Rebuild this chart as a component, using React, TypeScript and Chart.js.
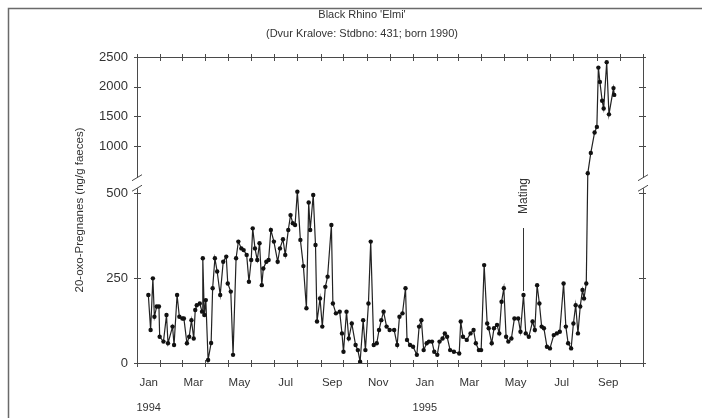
import React, { useEffect, useRef } from "react";
import { Chart, registerables } from "chart.js";

Chart.register(...registerables);

// Sampling day (days since 1 Jan 1994) of each faecal sample
const SAMPLE_DAYS = [
  15, 18, 21, 23, 26, 29, 30, 35, 39, 41, 47, 49, 53, 56, 60, 62, 66, 69, 72, 75,
  77, 79, 83, 86, 87, 89, 91, 94, 98, 100, 103, 106, 110, 114, 118, 120, 124, 127, 131, 134,
  138, 141, 145, 148, 151, 153, 156, 159, 162, 165, 167, 171, 174, 177, 181, 186, 189, 193, 196, 200,
  203, 206, 209, 212, 216, 220, 224, 227, 229, 233, 236, 238, 242, 245, 249, 252, 257, 259, 263, 268,
  271, 273, 277, 280, 284, 289, 292, 295, 299, 302, 306, 309, 313, 317, 320, 323, 326, 330, 334, 340,
  344, 347, 351, 355, 357, 361, 365, 370, 373, 376, 379, 383, 386, 390, 393, 397, 400, 404, 407, 410,
  414, 419, 426, 428, 431, 436, 441, 445, 448, 452, 455, 459, 463, 465, 469, 472, 476, 479, 482, 485,
  488, 491, 495, 499, 504, 507, 511, 514, 518, 523, 526, 529, 532, 535, 538, 542, 546, 551, 555, 559,
  564, 567, 570, 574, 577, 580, 583, 586, 589, 591, 594, 596, 600, 605, 608, 610, 612, 615, 617, 621,
  624, 630, 631,
];

// 20-oxo-pregnane concentration (ng/g faeces)
const PREGNANES = [
  200, 97, 249, 136, 166, 166, 77, 63, 141, 58, 107, 53, 200, 136, 131, 131, 58, 77, 126, 72,
  156, 170, 175, 151, 308, 141, 185, 9, 59, 220, 308, 269, 200, 298, 313, 234, 210, 24, 308, 357,
  337, 332, 318, 239, 303, 396, 337, 303, 352, 229, 278, 298, 303, 391, 357, 298, 337, 364, 318, 391,
  435, 411, 406, 504, 362, 285, 161, 472, 391, 494, 347, 122, 190, 107, 224, 254, 406, 175, 146, 151,
  87, 33, 151, 72, 116, 53, 38, 4, 126, 38, 175, 357, 53, 58, 97, 126, 151, 107, 97, 97,
  53, 136, 146, 220, 68, 53, 48, 24, 107, 126, 38, 58, 63, 63, 33, 24, 63, 72, 87, 77,
  38, 33, 28, 122, 77, 68, 87, 97, 58, 38, 38, 288, 116, 102, 58, 102, 112, 87, 180, 220,
  77, 63, 72, 131, 131, 92, 200, 87, 77, 122, 97, 229, 175, 107, 102, 48, 43, 82, 87, 92,
  234, 107, 58, 43, 116, 170, 87, 166, 215, 190, 234, 540, 884, 1229, 1322, 2322, 2081, 1764, 1633, 2414,
  1534, 1977, 1862,
];

// First day of every month on the time axis, Jan 1994 .. Nov 1995
const MONTH_STARTS = [
  0, 31, 59, 90, 120, 151, 181, 212, 243, 273, 304, 334,
  365, 396, 424, 455, 485, 516, 546, 577, 608, 638, 669,
];
// Labels shown for every other month, starting with Jan 1994
const MONTH_LABELS = ["Jan", "Mar", "May", "Jul", "Sep", "Nov", "Jan", "Mar", "May", "Jul", "Sep"];
const YEAR_LABELS = ["1994", "1995"];
const YEAR_MONTH_INDEX = [0, 12];

const LOWER_TICKS = [0, 250, 500];
const UPPER_TICKS = [1000, 1500, 2000, 2500];

const MATING_DAY = 511;
const MATING_VALUE = 200;
const MATING_LINE_TOP = 397;

const TITLE = "Black Rhino 'Elmi'";
const SUBTITLE = "(Dvur Kralove: Stdbno: 431; born 1990)";
const Y_TITLE = "20-oxo-Pregnanes (ng/g faeces)";

// Broken y axis: 0..520 drawn linearly, values above compressed onto an upper band
const LOWER_LIMIT = 520;
const BREAK_VALUE = 500;
const UPPER_BASE = 551;
const UPPER_SCALE = 0.1744;
const AXIS_MAX = 900;

function toAxis(v: number): number {
  return v <= LOWER_LIMIT ? v : UPPER_BASE + (v - BREAK_VALUE) * UPPER_SCALE;
}

const FONT = "'Liberation Sans', Arial, sans-serif";
const AXIS_COLOR = "#4a4a4a";
const TEXT_COLOR = "#333";

const decorations = {
  id: "brokenAxisDecorations",
  afterDraw(chart: any) {
    const ctx = chart.ctx as CanvasRenderingContext2D;
    const xs = chart.scales.x;
    const ys = chart.scales.y;
    const { left, right, top, bottom } = chart.chartArea;
    const px = (d: number) => xs.getPixelForValue(d);
    const py = (v: number) => ys.getPixelForValue(toAxis(v));

    ctx.save();

    // outer frame
    ctx.strokeStyle = "#6a6a6a";
    ctx.lineWidth = 1.5;
    ctx.beginPath();
    ctx.moveTo(8.5, 430);
    ctx.lineTo(8.5, 8.5);
    ctx.lineTo(710, 8.5);
    ctx.stroke();

    // titles
    ctx.fillStyle = TEXT_COLOR;
    ctx.textAlign = "center";
    ctx.textBaseline = "middle";
    ctx.font = `11px ${FONT}`;
    ctx.fillText(TITLE, 362, 15);
    ctx.fillText(SUBTITLE, 362, 34);

    ctx.strokeStyle = AXIS_COLOR;
    ctx.lineWidth = 1;

    const upperBottom = ys.getPixelForValue(UPPER_BASE - 6);
    const lowerTop = ys.getPixelForValue(BREAK_VALUE + 14);

    // frame of the plot with a gap at the break
    ctx.beginPath();
    ctx.moveTo(left + 0.5, top + 0.5);
    ctx.lineTo(right + 0.5, top + 0.5);
    ctx.moveTo(left + 0.5, top);
    ctx.lineTo(left + 0.5, upperBottom);
    ctx.moveTo(left + 0.5, lowerTop);
    ctx.lineTo(left + 0.5, bottom + 0.5);
    ctx.lineTo(right + 0.5, bottom + 0.5);
    ctx.moveTo(right + 0.5, top);
    ctx.lineTo(right + 0.5, upperBottom);
    ctx.moveTo(right + 0.5, lowerTop);
    ctx.lineTo(right + 0.5, bottom + 0.5);
    ctx.stroke();

    // break marks
    ctx.beginPath();
    for (const x of [left, right]) {
      ctx.moveTo(x - 5, upperBottom + 3);
      ctx.lineTo(x + 5, upperBottom - 3);
      ctx.moveTo(x - 5, lowerTop + 3);
      ctx.lineTo(x + 5, lowerTop - 3);
    }
    ctx.stroke();

    // month ticks on bottom and top axes
    ctx.beginPath();
    for (const d of MONTH_STARTS) {
      const x = Math.round(px(d)) + 0.5;
      ctx.moveTo(x, bottom - 3);
      ctx.lineTo(x, bottom + 4);
      ctx.moveTo(x, top - 3);
      ctx.lineTo(x, top + 4);
    }
    // value ticks on left and right axes
    for (const v of [...LOWER_TICKS, ...UPPER_TICKS]) {
      const y = Math.round(py(v)) + 0.5;
      ctx.moveTo(left - 3, y);
      ctx.lineTo(left + 4, y);
      ctx.moveTo(right - 4, y);
      ctx.lineTo(right + 3, y);
    }
    ctx.stroke();

    // y tick labels
    ctx.fillStyle = TEXT_COLOR;
    ctx.font = `13px ${FONT}`;
    ctx.textAlign = "right";
    ctx.textBaseline = "middle";
    for (const v of [...LOWER_TICKS, ...UPPER_TICKS]) {
      ctx.fillText(String(v), left - 9, py(v));
    }

    // month labels centred in their month, years under January
    ctx.font = `11.5px ${FONT}`;
    ctx.textAlign = "center";
    MONTH_LABELS.forEach((label, i) => {
      const m = i * 2;
      const cx = (px(MONTH_STARTS[m]) + px(MONTH_STARTS[m + 1])) / 2;
      ctx.fillText(label, cx, bottom + 20);
    });
    ctx.font = `11px ${FONT}`;
    YEAR_LABELS.forEach((label, i) => {
      const m = YEAR_MONTH_INDEX[i];
      const cx = (px(MONTH_STARTS[m]) + px(MONTH_STARTS[m + 1])) / 2;
      ctx.fillText(label, cx, bottom + 45);
    });

    // y axis title
    ctx.save();
    ctx.translate(80, 210);
    ctx.rotate(-Math.PI / 2);
    ctx.font = `11.5px ${FONT}`;
    ctx.fillText(Y_TITLE, 0, 0);
    ctx.restore();

    // mating annotation
    const mx = Math.round(px(MATING_DAY)) + 0.5;
    ctx.strokeStyle = "#333";
    ctx.beginPath();
    ctx.moveTo(mx, py(MATING_VALUE) - 4);
    ctx.lineTo(mx, py(MATING_LINE_TOP));
    ctx.stroke();
    ctx.save();
    ctx.translate(mx, py(MATING_LINE_TOP) - 14);
    ctx.rotate(-Math.PI / 2);
    ctx.textAlign = "left";
    ctx.font = `12px ${FONT}`;
    ctx.fillText("Mating", 0, 0);
    ctx.restore();

    ctx.restore();
  },
};

export default function App() {
  const canvasRef = useRef<HTMLCanvasElement | null>(null);

  useEffect(() => {
    if (!canvasRef.current) return;
    const data = SAMPLE_DAYS.map((d, i) => ({ x: d, y: toAxis(PREGNANES[i]) }));
    const chart = new Chart(canvasRef.current, {
      type: "line",
      data: {
        datasets: [
          {
            data,
            borderColor: "#222",
            borderWidth: 1.2,
            pointRadius: 2.2,
            pointBackgroundColor: "#111",
            pointBorderColor: "#111",
            pointBorderWidth: 0,
            tension: 0,
          },
        ],
      },
      options: {
        animation: false,
        responsive: false,
        devicePixelRatio: 1,
        layout: { padding: { left: 137, right: 59, top: 57, bottom: 55 } },
        plugins: {
          legend: { display: false },
          title: { display: false },
          tooltip: { enabled: false },
        },
        scales: {
          x: { type: "linear", min: 0, max: MONTH_STARTS[MONTH_STARTS.length - 1], display: false },
          y: { type: "linear", min: 0, max: AXIS_MAX, display: false },
        },
      },
      plugins: [decorations],
    });
    return () => chart.destroy();
  }, []);

  return (
    <div style={{ position: "fixed", left: 0, top: 0, width: 702, height: 418, background: "#fff" }}>
      <canvas ref={canvasRef} width={702} height={418} />
    </div>
  );
}
